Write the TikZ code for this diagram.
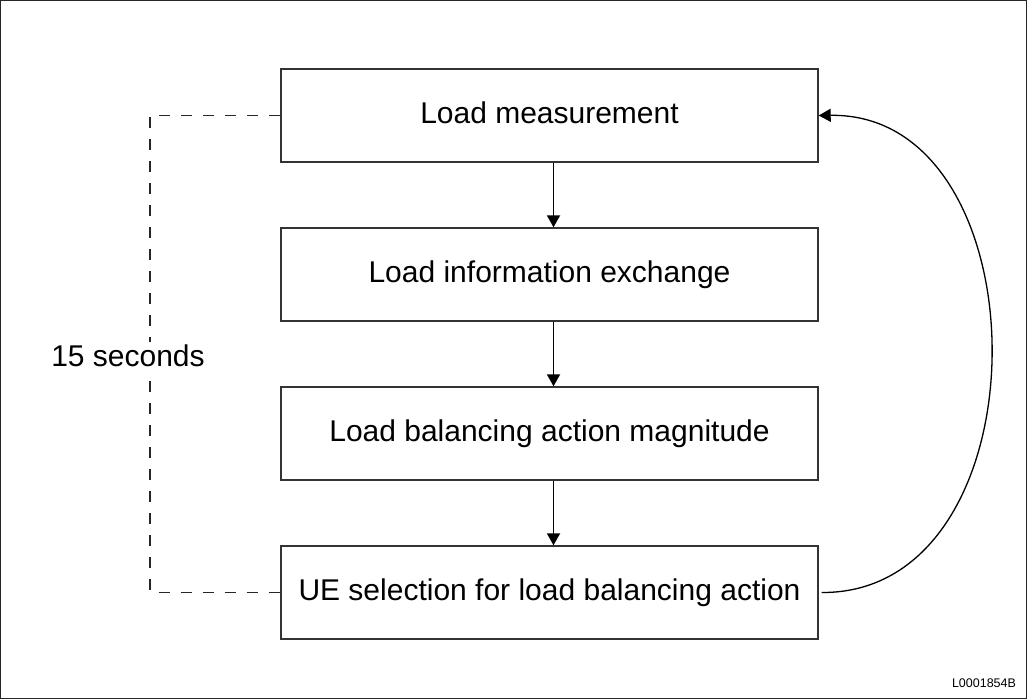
\documentclass[tikz,border=0pt]{standalone}
\usepackage{fontspec}
\setmainfont{Liberation Sans}
\usetikzlibrary{arrows.meta}
\begin{document}
\begin{tikzpicture}[x=1pt,y=-1pt,
  stagebox/.style={draw=black!80, line width=1.4pt, minimum width=537pt,
    minimum height=93pt, inner sep=0pt, text height=21.5pt, text depth=6.5pt,
    font=\fontsize{30}{36}\selectfont},
  flow/.style={line width=1.8pt, -{Triangle[length=12pt,width=13pt]}},
  loopback/.style={line width=1.3pt, -{Triangle[length=12pt,width=13pt]}},
  period/.style={draw=black!85, line width=1.3pt, dash pattern=on 11pt off 11pt},
  caption/.style={font=\fontsize{30}{36}\selectfont, fill=white, inner sep=3pt},
  tag/.style={font=\fontsize{12.5}{15}\selectfont, inner sep=0pt}]
  \useasboundingbox (0,0) rectangle (1027,699);
  \draw[line width=1pt, black!85] (0.5,0.5) rectangle (1026.5,698.5);

  % process stages
  \node[stagebox] (d1) at (549.5,115.5) {Load measurement};
  \node[stagebox] (d2) at (549.5,274.5) {Load information exchange};
  \node[stagebox] (d3) at (549.5,433.5) {Load balancing action magnitude};
  \node[stagebox] (d4) at (549.5,592.5) {UE selection for load balancing action};

  % forward flow
  \draw[flow] ([xshift=4pt]d1.south) -- ([xshift=4pt]d2.north);
  \draw[flow] ([xshift=4pt]d2.south) -- ([xshift=4pt]d3.north);
  \draw[flow] ([xshift=4pt]d3.south) -- ([xshift=4pt]d4.north);

  % loop back to the first stage
  \draw[loopback] ([xshift=3pt]d4.east) .. controls (1049,594) and (1046,112) .. (d1.east);

  % measurement period
  \coordinate (pt) at (150,115.5);
  \coordinate (pb) at (150,592.5);
  \draw[period] (d1.west) -- (pt) -- (pb) -- (d4.west);
  \node[caption] (sec) at (128,356) {15 seconds};

  \node[tag] (ref) at (984,683) {L0001854B};
\end{tikzpicture}
\end{document}
